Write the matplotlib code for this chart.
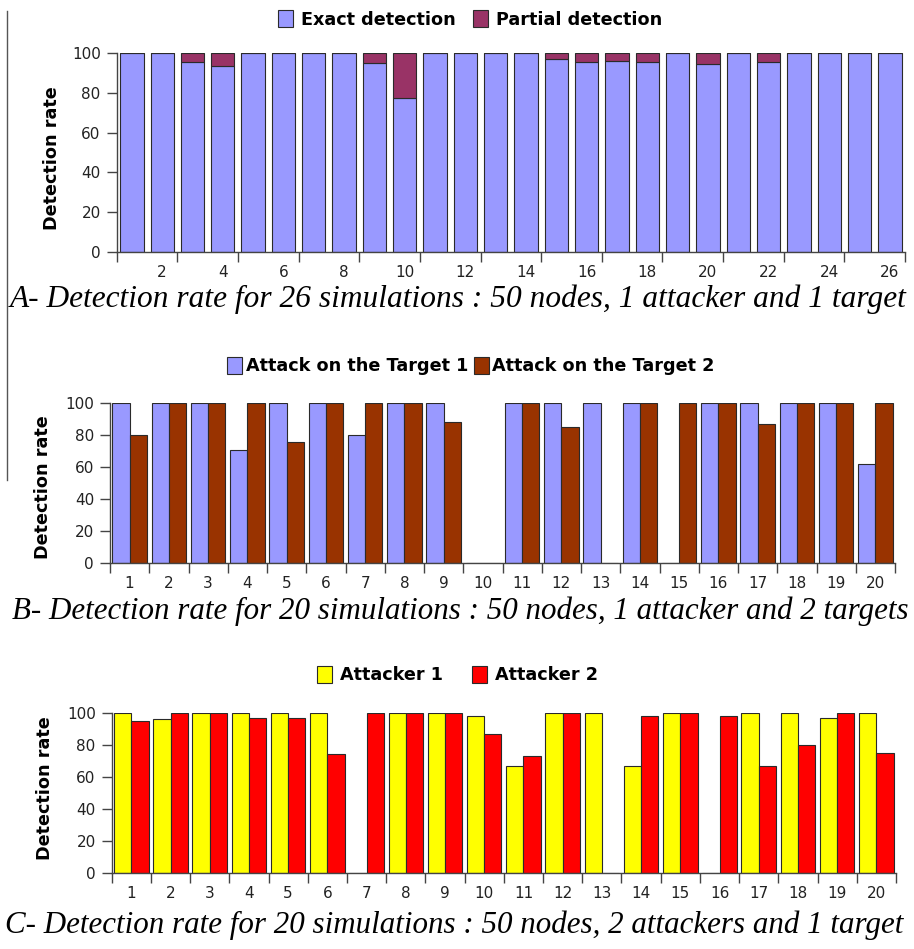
import matplotlib
matplotlib.use('Agg')
import matplotlib.pyplot as plt
import numpy as np
from matplotlib.lines import Line2D

# ---------------- data ----------------
sims_a = list(range(1, 27))
exact_a = [100, 100, 95.5, 93.5, 100, 100, 100, 100, 95, 77.5, 100, 100, 100,
           100, 97, 95.5, 96, 95.5, 100, 94.5, 100, 95.5, 100, 100, 100, 100]
partial_a = [0, 0, 4.5, 6.5, 0, 0, 0, 0, 5, 22.5, 0, 0, 0,
             0, 3, 4.5, 4, 4.5, 0, 5.5, 0, 4.5, 0, 0, 0, 0]

sims_b = list(range(1, 21))
target1_b = [100, 100, 100, 71, 100, 100, 80, 100, 100, 0,
             100, 100, 100, 100, 0, 100, 100, 100, 100, 62]
target2_b = [80, 100, 100, 100, 75.5, 100, 100, 100, 88, 0,
             100, 85, 0, 100, 100, 100, 87, 100, 100, 100]

sims_c = list(range(1, 21))
attacker1_c = [100, 96, 100, 100, 100, 100, 0, 100, 100, 98,
               67, 100, 100, 67, 100, 0, 100, 100, 97, 100]
attacker2_c = [95, 100, 100, 97, 97, 74, 100, 100, 100, 87,
               73, 100, 0, 98, 100, 98, 67, 80, 100, 75]

caption_a = "A- Detection rate for 26 simulations : 50 nodes, 1 attacker and 1 target"
caption_b = "B- Detection rate for 20 simulations : 50 nodes, 1 attacker and 2 targets"
caption_c = "C- Detection rate for 20 simulations : 50 nodes, 2 attackers and 1 target"

# ---------------- style ----------------
W, H, DPI = 914, 949, 100
C_EXACT, C_PART = '#9999FF', '#993366'
C_T1, C_T2 = '#9999FF', '#993300'
C_A1, C_A2 = '#FFFF00', '#FF0000'
EDGE = '#2a2a2a'
AXC = '#444444'

fig = plt.figure(figsize=(W / DPI, H / DPI), dpi=DPI)


def px_axes(left, right, top, bottom):
    return fig.add_axes([left / W, 1 - bottom / H, (right - left) / W, (bottom - top) / H])


def style_axes(ax, n, label_ticks, minor_step):
    ax.set_ylim(0, 100)
    ax.set_xlim(0.5, n + 0.5)
    ax.set_yticks(np.arange(0, 101, 20))
    ax.set_xticks(label_ticks)
    ax.set_xticks(np.arange(0.5, n + 0.6, minor_step), minor=True)
    for s in ('top', 'right'):
        ax.spines[s].set_visible(False)
    for s in ('left', 'bottom'):
        ax.spines[s].set_color(AXC)
        ax.spines[s].set_linewidth(1.0)
    ax.tick_params(axis='y', length=7.5, width=1, color=AXC, labelsize=11,
                   labelcolor='#222222', pad=4)
    ax.tick_params(axis='x', which='major', length=0, labelsize=11,
                   labelcolor='#222222', pad=9.5)
    ax.tick_params(axis='x', which='minor', length=7, width=1, color=AXC)
    ax.set_facecolor('none')


def ylabel(x, y):
    fig.text(x / W, 1 - y / H, 'Detection rate', rotation=90, ha='center',
             va='center', fontsize=12.7, fontweight='bold', color='black')


# ---------------- chart A ----------------
axA = px_axes(116.7, 905, 52.7, 252.3)
xa = np.array(sims_a)
bA1 = axA.bar(xa, exact_a, width=0.77, color=C_EXACT, edgecolor=EDGE, linewidth=0.8,
              label='Exact detection', zorder=2)
bA2 = axA.bar(xa, partial_a, width=0.77, bottom=exact_a, color=C_PART, edgecolor=EDGE,
              linewidth=0.8, label='Partial detection', zorder=2)
style_axes(axA, 26, list(range(2, 27, 2)), 2)
ylabel(52, 158)
fig.legend(handles=[bA1, bA2], labels=['Exact detection', 'Partial detection'],
           loc='center', bbox_to_anchor=(470 / W, 1 - 19.5 / H), ncol=2, frameon=False,
           prop={'weight': 'bold', 'size': 12.7}, handlelength=0.85, handleheight=1.13,
           handletextpad=0.45, columnspacing=1.0, borderpad=0, borderaxespad=0)

# ---------------- chart B ----------------
axB = px_axes(110, 895, 403.3, 562.7)
xb = np.array(sims_b)
bw = 0.44
bB1 = axB.bar(xb - bw / 2, target1_b, width=bw, color=C_T1, edgecolor=EDGE, linewidth=0.8,
              label='Attack on the Target 1', zorder=2)
bB2 = axB.bar(xb + bw / 2, target2_b, width=bw, color=C_T2, edgecolor=EDGE, linewidth=0.8,
              label='Attack on the Target 2', zorder=2)
style_axes(axB, 20, sims_b, 1)
ylabel(43, 487.5)
fig.legend(handles=[bB1, bB2], labels=['Attack on the Target 1', 'Attack on the Target 2'],
           loc='center', bbox_to_anchor=(471 / W, 1 - 366 / H), ncol=2, frameon=False,
           prop={'weight': 'bold', 'size': 12.7}, handlelength=0.85, handleheight=1.13,
           handletextpad=0.2, columnspacing=0.3, borderpad=0, borderaxespad=0)

# ---------------- chart C ----------------
axC = px_axes(111.7, 896, 712.7, 872.7)
xc = np.array(sims_c)
bC1 = axC.bar(xc - bw / 2, attacker1_c, width=bw, color=C_A1, edgecolor=EDGE, linewidth=0.8,
              label='Attacker 1', zorder=2)
bC2 = axC.bar(xc + bw / 2, attacker2_c, width=bw, color=C_A2, edgecolor=EDGE, linewidth=0.8,
              label='Attacker 2', zorder=2)
style_axes(axC, 20, sims_c, 1)
ylabel(45, 788)
fig.legend(handles=[bC1, bC2], labels=['Attacker 1', 'Attacker 2'],
           loc='center', bbox_to_anchor=(457.5 / W, 1 - 675 / H), ncol=2, frameon=False,
           prop={'weight': 'bold', 'size': 12.7}, handlelength=0.85, handleheight=1.13,
           handletextpad=0.45, columnspacing=1.7, borderpad=0, borderaxespad=0)

# ---------------- captions ----------------
renderer = fig.canvas.get_renderer()


def caption(text, x0, x1, baseline):
    t = fig.text(x0 / W, 1 - baseline / H, text, ha='left', va='baseline',
                 family='Liberation Serif', style='italic', fontsize=20, color='black')
    w = t.get_window_extent(renderer).width
    t.set_fontsize(20 * (x1 - x0) / w)


caption(caption_a, 10, 905, 307)
caption(caption_b, 12, 911, 619)
caption(caption_c, 5, 905, 933)

# thin vertical rule at left edge
fig.add_artist(Line2D([7.5 / W, 7.5 / W], [1 - 11 / H, 1 - 480 / H],
                      transform=fig.transFigure, color='#555555', linewidth=1.0))

fig.savefig('out.png', dpi=DPI)
